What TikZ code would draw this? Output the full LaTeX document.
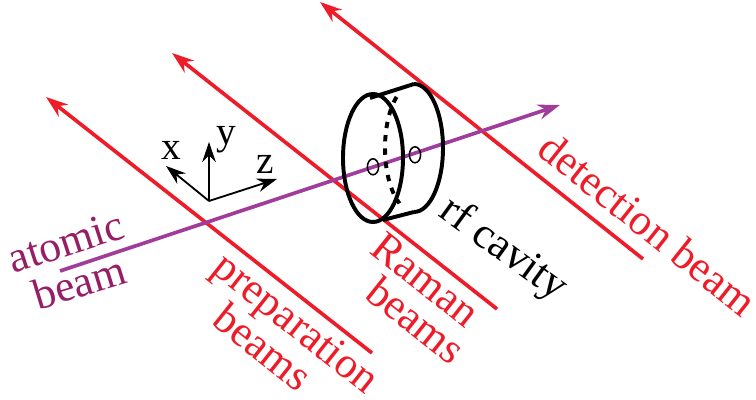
\documentclass[tikz,border=0pt]{standalone}
\usepackage{fontspec}
\setmainfont{Liberation Serif}
\usepackage{tikz}
\usetikzlibrary{arrows.meta,calc}
\definecolor{beamred}{RGB}{237,28,40}
\definecolor{atompurple}{RGB}{160,60,155}
\definecolor{atomtext}{RGB}{150,30,100}
\tikzset{
    laser/.style={beamred, line width=2.6pt, -{Stealth[length=5.5mm,width=3.8mm]}},
    lasertext/.style={beamred, font=\fontsize{31}{33}\selectfont, rotate=-38.5},
    atomlabel/.style={atomtext, font=\fontsize{31}{33}\selectfont},
    axis/.style={line width=1.3pt, -{Stealth[length=5mm,width=3.4mm]}},
    axislabel/.style={font=\fontsize{28}{30}\selectfont},
    cavity/.style={line width=2.8pt}
}
\begin{document}
\begin{tikzpicture}
    \useasboundingbox (0, 0) rectangle (18.9, 10);

    % 三束激光
    \draw[laser] (9.3, 1.175) -- (1.15, 7.575);
    \draw[laser] (12.425, 2.275) -- (4.3, 8.675);
    \draw[laser] (16.075, 3.525) -- (8, 9.95);

    % 原子束
    \draw[atompurple, line width=2.6pt, -{Stealth[length=5.5mm,width=3.8mm]}] (1.5, 3.225) -- (14, 7.375);

    % 腔上的小孔
    \draw[line width=1.1pt] (9.325, 5.83) ellipse (0.14 and 0.2);
    \draw[line width=1.1pt] (10.375, 6.13) ellipse (0.14 and 0.2);

    % 谐振腔
    \coordinate (frontc) at (9.325, 6.05);
    \coordinate (rearc) at (10.35, 6.3);
    \draw[cavity] (frontc) ellipse (0.75 and 1.6);
    \draw[cavity] (10.35, 7.9) arc (90:-90:0.725 and 1.6);
    \draw[cavity] (9.25, 7.55) -- (10.35, 7.9);
    \draw[cavity] (9.575, 4.5) -- (10.35, 4.7);
    \draw[cavity, dash pattern=on 4.5pt off 5pt] ($(rearc)+(127:0.725 and 1.6)$) arc (127:240:0.725 and 1.6);

    % 坐标轴
    \coordinate (axo) at (5.225, 4.975);
    \draw[axis] (axo) -- (5.225, 6.45);
    \draw[axis] (axo) -- (4.15, 5.85);
    \draw[axis] (axo) -- (6.925, 5.525);
    \node[axislabel] (xlabel) at (4.275, 6.25) {x};
    \node[axislabel] (ylabel) at (5.65, 6.5) {y};
    \node[axislabel] (zlabel) at (6.625, 5.9) {z};

    % 文字标注
    \node[atomlabel, rotate=18] (atomic) at (1.65, 3.95) {atomic};
    \node[atomlabel, rotate=17] (beam) at (1.975, 2.95) {beam};
    \node[lasertext] (prep) at (7.35, 1.85) {preparation};
    \node[lasertext] (prepb) at (6.58, 1.33) {beams};
    \node[lasertext] (raman) at (10.65, 3.0) {Raman};
    \node[lasertext] (ramanb) at (10.4, 2.0) {beams};
    \node[lasertext] (detect) at (16.2, 4.4) {detection beam};
    \node[font=\fontsize{31}{33}\selectfont, rotate=-36] (rf) at (12.575, 3.75) {rf cavity};
\end{tikzpicture}
\end{document}
